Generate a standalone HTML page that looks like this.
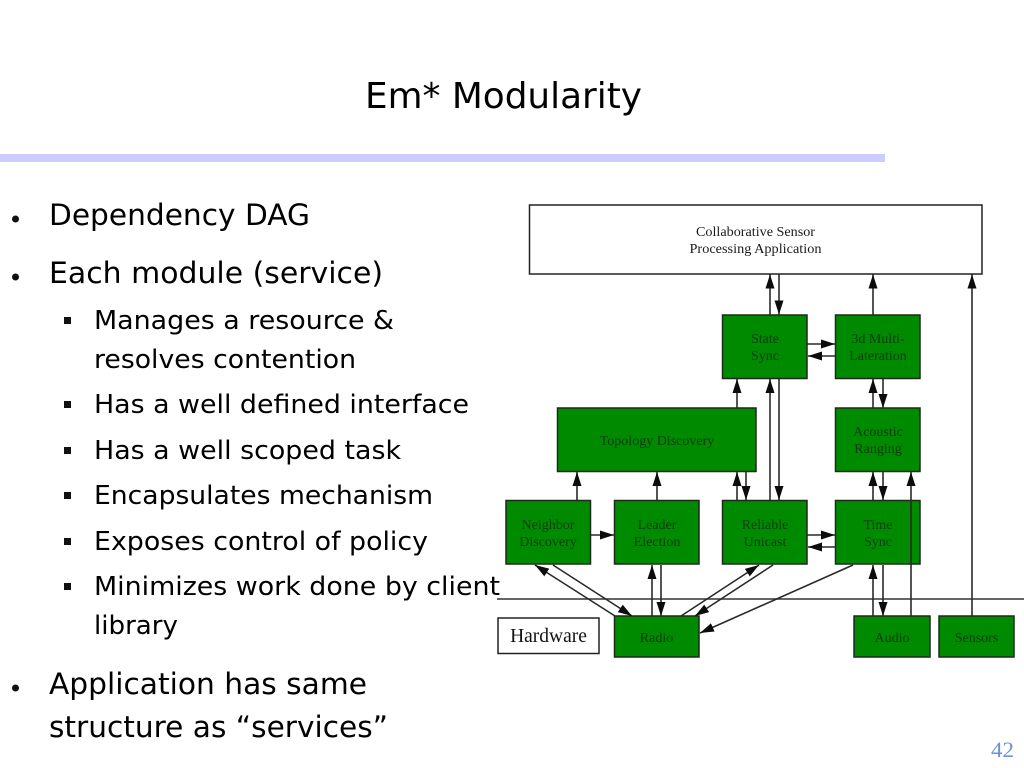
<!DOCTYPE html>
<html><head><meta charset="utf-8"><style>
html,body{margin:0;padding:0;background:#fff}
svg{display:block}
.s{font-family:"DejaVu Sans",sans-serif;fill:#000}
.b{font-size:29px}.m{font-size:26px}
.n{font-family:"Liberation Serif",serif;font-size:14px;fill:#0a3d0a;text-anchor:middle}
.g{fill:#008a00;stroke:#1c2a1c;stroke-width:1.5}
.x{fill:#fff;stroke:#222;stroke-width:1.5}
.a{stroke:#2a2a2a;stroke-width:1.6;fill:none}
</style></head><body>
<svg width="1024" height="768" viewBox="0 0 1024 768" xmlns="http://www.w3.org/2000/svg">
<defs>
<marker id="h" viewBox="0 0 14 9" refX="14" refY="4.5" markerWidth="14" markerHeight="9.500" markerUnits="userSpaceOnUse" orient="auto"><path d="M0 0L14 4.5L0 9z" fill="#0c0c0c"/></marker>
</defs>
<rect width="1024" height="768" fill="#fff"/>
<text class="s" x="365" y="108" font-size="36" textLength="277" lengthAdjust="spacingAndGlyphs">Em* Modularity</text>
<rect x="0" y="154" width="885" height="8" fill="#ccccff"/>

<circle cx="15.500" cy="219" r="3.500" fill="#111"/>
<circle cx="15.500" cy="277" r="3.500" fill="#111"/>
<circle cx="15.500" cy="688" r="3.500" fill="#111"/>
<rect x="64" y="317" width="7" height="7" fill="#111"/>
<rect x="64" y="401" width="7" height="7" fill="#111"/>
<rect x="64" y="447" width="7" height="7" fill="#111"/>
<rect x="64" y="492" width="7" height="7" fill="#111"/>
<rect x="64" y="538" width="7" height="7" fill="#111"/>
<rect x="64" y="583" width="7" height="7" fill="#111"/>

<text class="s b" x="49" y="225" textLength="261" lengthAdjust="spacingAndGlyphs">Dependency DAG</text>
<text class="s b" x="49" y="283" textLength="334" lengthAdjust="spacingAndGlyphs">Each module (service)</text>
<text class="s m" x="94" y="329" textLength="300" lengthAdjust="spacingAndGlyphs">Manages a resource &amp;</text>
<text class="s m" x="94" y="368" textLength="262" lengthAdjust="spacingAndGlyphs">resolves contention</text>
<text class="s m" x="94" y="413" textLength="375" lengthAdjust="spacingAndGlyphs">Has a well defined interface</text>
<text class="s m" x="94" y="459" textLength="307" lengthAdjust="spacingAndGlyphs">Has a well scoped task</text>
<text class="s m" x="94" y="504" textLength="339" lengthAdjust="spacingAndGlyphs">Encapsulates mechanism</text>
<text class="s m" x="94" y="550" textLength="334" lengthAdjust="spacingAndGlyphs">Exposes control of policy</text>
<text class="s m" x="94" y="595" textLength="406" lengthAdjust="spacingAndGlyphs">Minimizes work done by client</text>
<text class="s m" x="94" y="634" textLength="84" lengthAdjust="spacingAndGlyphs">library</text>
<text class="s b" x="49" y="694" textLength="318" lengthAdjust="spacingAndGlyphs">Application has same</text>
<text class="s b" x="49" y="737" textLength="339" lengthAdjust="spacingAndGlyphs">structure as “services”</text>

<line x1="497" y1="599" x2="1024" y2="599" stroke="#333" stroke-width="1.400"/>

<rect class="x" x="529.500" y="205" width="452.500" height="69"/>
<rect class="g" x="722.500" y="315" width="84.500" height="63.500"/>
<rect class="g" x="835.500" y="315" width="84.500" height="63.500"/>
<rect class="g" x="557.500" y="408" width="198.500" height="63.500"/>
<rect class="g" x="835.500" y="408" width="84.500" height="63.500"/>
<rect class="g" x="506" y="500.500" width="84.500" height="63.500"/>
<rect class="g" x="614.500" y="500.500" width="84.500" height="63.500"/>
<rect class="g" x="722.500" y="500.500" width="84.500" height="63.500"/>
<rect class="g" x="835.500" y="500.500" width="84.500" height="63.500"/>
<rect class="g" x="614.500" y="616" width="84.500" height="41"/>
<rect class="g" x="854" y="616" width="76" height="41"/>
<rect class="g" x="939" y="616" width="75" height="41"/>
<rect class="x" x="498" y="618" width="101" height="35.500"/>

<g class="a">
<line x1="770" y1="315" x2="770" y2="274.500" marker-end="url(#h)"/>
<line x1="779" y1="274.500" x2="779" y2="314.500" marker-end="url(#h)"/>
<line x1="873" y1="315" x2="873" y2="274.500" marker-end="url(#h)"/>
<line x1="972" y1="616" x2="972" y2="274.500" marker-end="url(#h)"/>
<line x1="807" y1="344" x2="835" y2="344" marker-end="url(#h)"/>
<line x1="835" y1="356" x2="808" y2="356" marker-end="url(#h)"/>
<line x1="737" y1="408" x2="737" y2="379" marker-end="url(#h)"/>
<line x1="770" y1="500" x2="770" y2="379" marker-end="url(#h)"/>
<line x1="779" y1="379" x2="779" y2="500" marker-end="url(#h)"/>
<line x1="873" y1="408" x2="873" y2="379" marker-end="url(#h)"/>
<line x1="883" y1="379" x2="883" y2="408" marker-end="url(#h)"/>
<line x1="577" y1="500" x2="577" y2="472" marker-end="url(#h)"/>
<line x1="657" y1="500" x2="657" y2="472" marker-end="url(#h)"/>
<line x1="737" y1="500" x2="737" y2="472" marker-end="url(#h)"/>
<line x1="746" y1="472" x2="746" y2="500" marker-end="url(#h)"/>
<line x1="873" y1="500" x2="873" y2="472" marker-end="url(#h)"/>
<line x1="883" y1="472" x2="883" y2="500" marker-end="url(#h)"/>
<line x1="911" y1="616" x2="911" y2="472" marker-end="url(#h)"/>
<line x1="807" y1="535" x2="835" y2="535" marker-end="url(#h)"/>
<line x1="835" y1="547" x2="808" y2="547" marker-end="url(#h)"/>
<line x1="591" y1="535" x2="614" y2="535" marker-end="url(#h)"/>
<line x1="615" y1="616" x2="535" y2="565" marker-end="url(#h)"/>
<line x1="553" y1="565" x2="632" y2="616" marker-end="url(#h)"/>
<line x1="652" y1="616" x2="652" y2="565" marker-end="url(#h)"/>
<line x1="661" y1="565" x2="661" y2="616" marker-end="url(#h)"/>
<line x1="681" y1="616" x2="759" y2="565" marker-end="url(#h)"/>
<line x1="773" y1="565" x2="695" y2="616" marker-end="url(#h)"/>
<line x1="853" y1="565" x2="700" y2="633" marker-end="url(#h)"/>
<line x1="873" y1="616" x2="873" y2="565" marker-end="url(#h)"/>
<line x1="883" y1="565" x2="883" y2="616" marker-end="url(#h)"/>
</g>

<text class="n" style="fill:#1a1a1a" x="755.500" y="236" textLength="119" lengthAdjust="spacingAndGlyphs">Collaborative Sensor</text>
<text class="n" style="fill:#1a1a1a" x="755.500" y="253" textLength="132" lengthAdjust="spacingAndGlyphs">Processing Application</text>
<text class="n" x="765" y="343">State</text>
<text class="n" x="765" y="360">Sync</text>
<text class="n" x="878" y="343">3d Multi-</text>
<text class="n" x="878" y="360">Lateration</text>
<text class="n" x="657" y="445">Topology Discovery</text>
<text class="n" x="878" y="436">Acoustic</text>
<text class="n" x="878" y="453">Ranging</text>
<text class="n" x="548" y="529">Neighbor</text>
<text class="n" x="548" y="546">Discovery</text>
<text class="n" x="657" y="529">Leader</text>
<text class="n" x="657" y="546">Election</text>
<text class="n" x="765" y="529">Reliable</text>
<text class="n" x="765" y="546">Unicast</text>
<text class="n" x="878" y="529">Time</text>
<text class="n" x="878" y="546">Sync</text>
<text class="n" x="656.500" y="642">Radio</text>
<text class="n" x="892" y="642">Audio</text>
<text class="n" x="976.500" y="642">Sensors</text>
<text x="548.500" y="642" text-anchor="middle" font-family="'Liberation Serif',serif" font-size="19.500" fill="#111">Hardware</text>
<text x="991" y="757" font-family="'Liberation Serif',serif" font-size="22" fill="#6a8fe0" textLength="23" lengthAdjust="spacingAndGlyphs">42</text>
</svg>
</body></html>
